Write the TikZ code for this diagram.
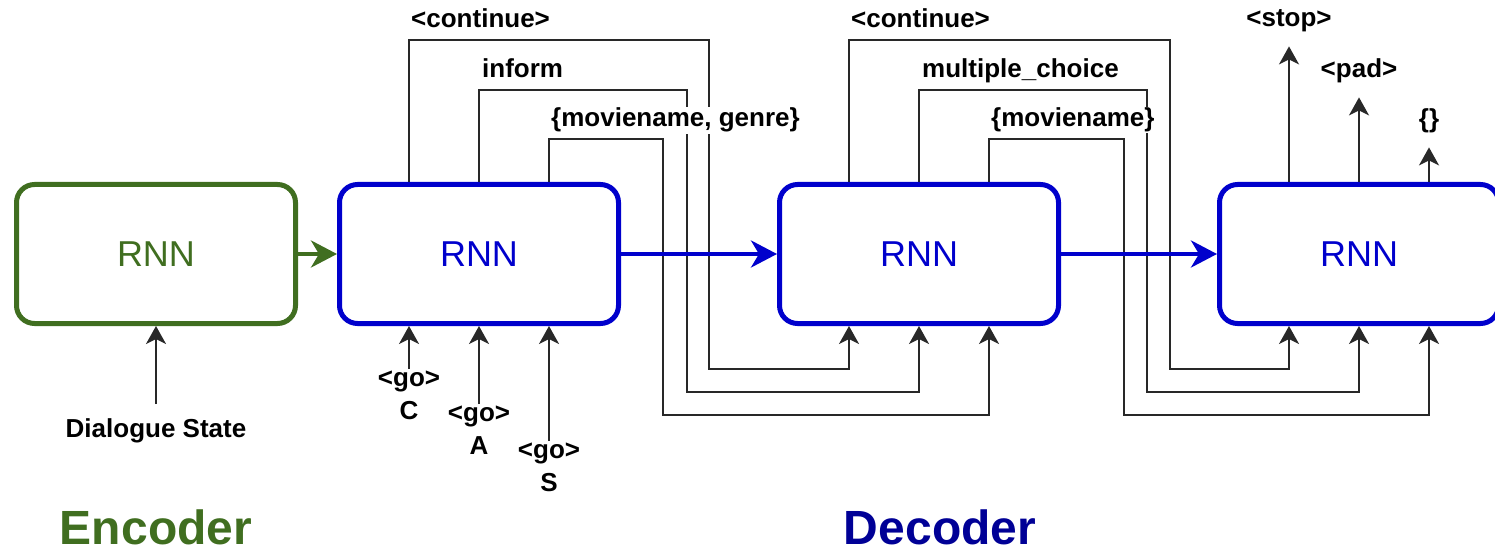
\documentclass[tikz,border=0pt]{standalone}
\usepackage{fontspec}
\setmainfont{Liberation Sans}
\usetikzlibrary{arrows.meta,positioning}
\definecolor{encgreen}{RGB}{64,110,32}
\definecolor{decblue}{RGB}{0,0,204}
\definecolor{titleblue}{RGB}{0,0,150}
\definecolor{wiregray}{RGB}{40,40,40}

\begin{document}
\begin{tikzpicture}[x=1pt,y=-1pt,
  node distance=156pt,
  rnn/.style={draw,line width=5pt,rounded corners=18pt,minimum width=279pt,minimum height=139pt,font=\fontsize{36}{40}\selectfont},
  tok/.style={font=\fontsize{26}{33}\selectfont\bfseries,inner sep=2pt,align=center},
  slot/.style={tok,fill=white,anchor=base west,inner sep=1pt},
  outlbl/.style={tok,anchor=base,outer sep=12pt},
  heading/.style={font=\fontsize{48}{50}\selectfont\bfseries},
  wire/.style={line width=2pt,wiregray,-{Stealth[length=18pt,width=20pt,inset=5pt]}},
  pass/.style={line width=4pt,-{Stealth[length=26pt,width=27pt,inset=8pt]}}
]
  \useasboundingbox (0,0) rectangle (1495,553);

  \node[rnn,draw=encgreen,text=encgreen] (enc) at (156,254) {RNN};
  \node[rnn,draw=decblue,text=decblue,right=39pt of enc] (dec1) {RNN};
  \node[rnn,draw=decblue,text=decblue,right=of dec1] (dec2) {RNN};
  \node[rnn,draw=decblue,text=decblue,right=of dec2] (dec3) {RNN};

  \node[outlbl] (state) at (156,437) {Dialogue State};
  \draw[wire] (state) -- (enc);

  \node[tok,anchor=north] (goC) at (409,369) {<go>\\C};
  \node[tok,anchor=north] (goA) at (479,404) {<go>\\A};
  \node[tok,anchor=north] (goS) at (549,441) {<go>\\S};
  \draw[wire] (goC) -- (goC |- dec1.south);
  \draw[wire] (goA) -- (goA |- dec1.south);
  \draw[wire] (goS) -- (goS |- dec1.south);

  \draw[wire] ([xshift=-70pt]dec1.north) |- (709,40) -- (709,369) -| ([xshift=-70pt]dec2.south);
  \draw[wire] (dec1.north) |- (687,90) -- (687,392) -| (dec2.south);
  \draw[wire] ([xshift=70pt]dec1.north) |- (663,139) -- (663,415) -| ([xshift=70pt]dec2.south);
  \draw[wire] ([xshift=-70pt]dec2.north) |- (1170,40) -- (1170,369) -| ([xshift=-70pt]dec3.south);
  \draw[wire] (dec2.north) |- (1147,90) -- (1147,392) -| (dec3.south);
  \draw[wire] ([xshift=70pt]dec2.north) |- (1124,139) -- (1124,415) -| ([xshift=70pt]dec3.south);

  \node[slot] (cont1) at (410,28) {<continue>};
  \node[slot] (act1) at (481,78) {inform};
  \node[slot] (slots1) at (550,127) {\{moviename, genre\}};
  \node[slot] (cont2) at (850,28) {<continue>};
  \node[slot] (act2) at (921,78) {multiple\_choice};
  \node[slot] (slots2) at (990,127) {\{moviename\}};

  \node[outlbl] (stop) at (1289,27) {<stop>};
  \node[outlbl] (pad) at (1359,78) {<pad>};
  \node[outlbl] (none) at (1429,128) {\{\}};
  \draw[wire] ([xshift=-70pt]dec3.north) -- (stop);
  \draw[wire] (dec3.north) -- (pad);
  \draw[wire] ([xshift=70pt]dec3.north) -- (none);

  \draw[pass,encgreen] (enc) -- (dec1);
  \draw[pass,decblue] (dec1) -- (dec2);
  \draw[pass,decblue] (dec2) -- (dec3);

  \node[heading,text=encgreen] (enctitle) at (156,527) {Encoder};
  \node[heading,text=titleblue] (dectitle) at (940,527) {Decoder};
\end{tikzpicture}
\end{document}
